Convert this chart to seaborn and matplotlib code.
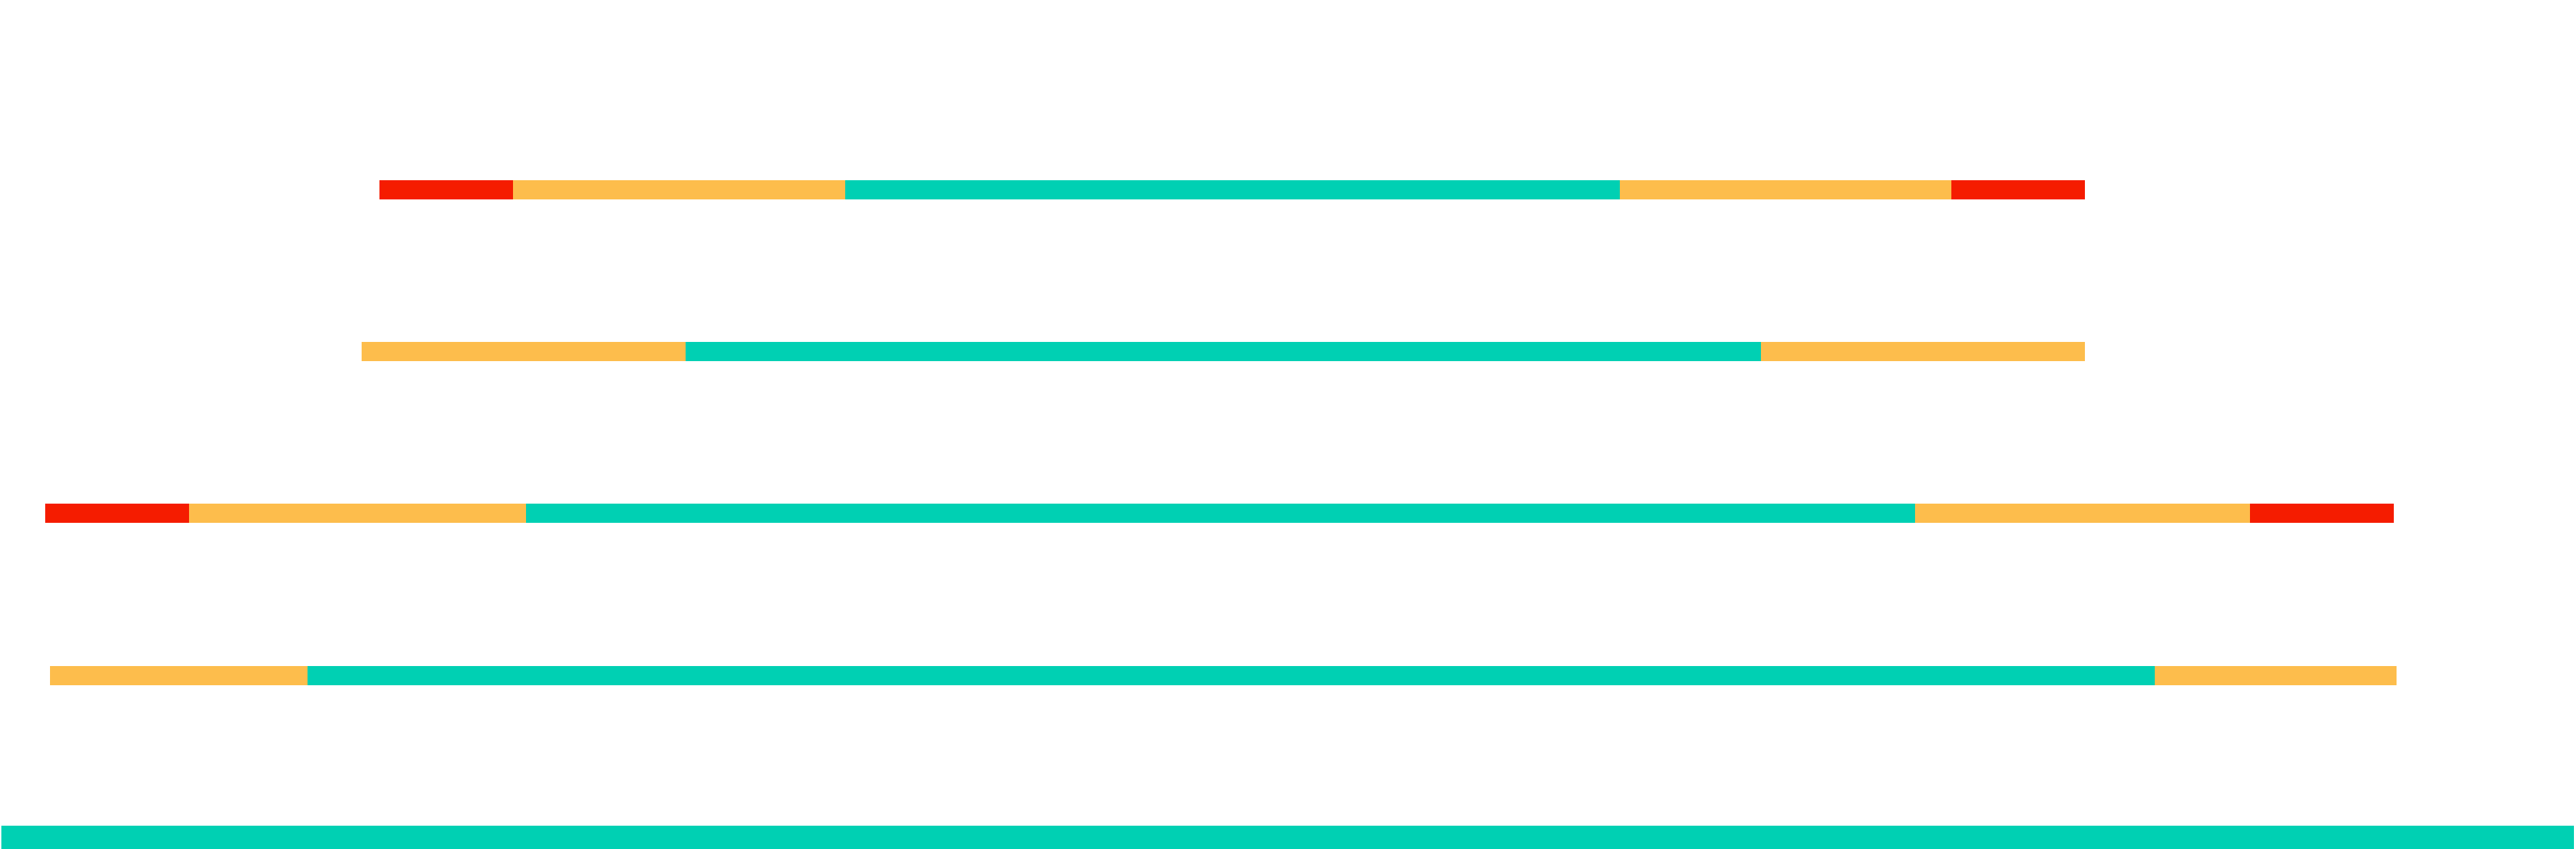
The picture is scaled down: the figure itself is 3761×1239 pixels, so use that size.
import matplotlib
matplotlib.use("Agg")
import matplotlib.pyplot as plt
import seaborn as sns
import pandas as pd

# Row labels (top to bottom) and segment boundaries on a 0-100 scale
rows = ["r1", "r2", "r3", "r4", "r5"]
row1_edges = [14.7, 19.9, 32.8, 62.9, 75.8, 81.0]
row1_levels = ["red", "yellow", "teal", "yellow", "red"]
row2_edges = [14.0, 26.6, 68.4, 81.0]
row2_levels = ["yellow", "teal", "yellow"]
row3_edges = [1.7, 7.3, 20.4, 74.4, 87.4, 93.0]
row3_levels = ["red", "yellow", "teal", "yellow", "red"]
row4_edges = [1.9, 11.9, 83.7, 93.1]
row4_levels = ["yellow", "teal", "yellow"]
row5_edges = [0.0, 100.0]
row5_levels = ["teal"]

palette = {"red": "#F51C00", "yellow": "#FDBD4C", "teal": "#00D0B3"}

records = []
for i, (edges, levels) in enumerate([
    (row1_edges, row1_levels), (row2_edges, row2_levels),
    (row3_edges, row3_levels), (row4_edges, row4_levels),
    (row5_edges, row5_levels)]):
    for j, lev in enumerate(levels):
        records.append({"row": i, "start": edges[j], "end": edges[j + 1], "level": lev})
df = pd.DataFrame(records)

sns.set_theme(style="white")
fig = plt.figure(figsize=(37.62, 12.39), dpi=100)
ax = fig.add_axes([0, 0, 1, 1])

heights = {0: 0.1185, 1: 0.1185, 2: 0.1185, 3: 0.1185, 4: 0.14}
for _, r in df.iterrows():
    ax.barh(r["row"], r["end"] - r["start"], left=r["start"],
            height=heights[r["row"]], color=palette[r["level"]], linewidth=0)

ax.set_xlim(-0.053, 100.107)
ax.set_ylim(4.072, -1.1725)
ax.axis("off")
fig.savefig("out.png", dpi=100, facecolor="white")
